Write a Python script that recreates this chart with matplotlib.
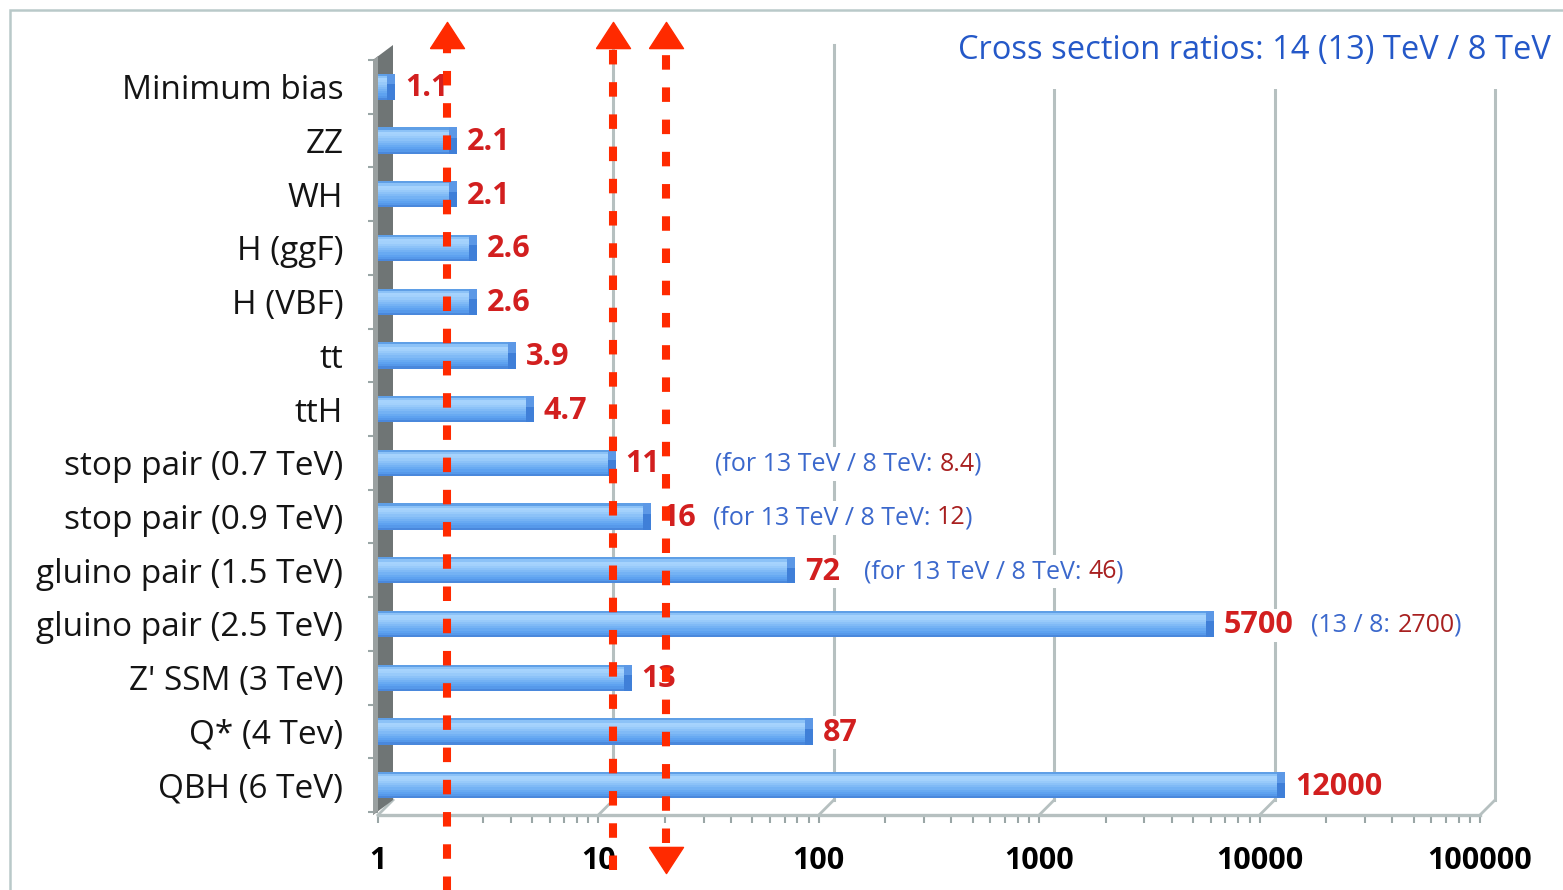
import numpy as np
import matplotlib.pyplot as plt
import matplotlib.ticker as mticker
from matplotlib.patches import Polygon, Rectangle
from matplotlib.path import Path

plt.rcParams['font.family'] = ['Open Sans', 'DejaVu Sans']

# data
categories = ["Minimum bias", "ZZ", "WH", "H (ggF)", "H (VBF)", "tt", "ttH",
              "stop pair (0.7 TeV)", "stop pair (0.9 TeV)", "gluino pair (1.5 TeV)",
              "gluino pair (2.5 TeV)", "Z' SSM (3 TeV)", "Q* (4 Tev)", "QBH (6 TeV)"]
ratio_14_8 = [1.1, 2.1, 2.1, 2.6, 2.6, 3.9, 4.7, 11, 16, 72, 5700, 13, 87, 12000]
note_rows = ["stop pair (0.7 TeV)", "stop pair (0.9 TeV)",
             "gluino pair (1.5 TeV)", "gluino pair (2.5 TeV)"]
note_prefix = ["(for 13 TeV / 8 TeV:", "(for 13 TeV / 8 TeV:",
               "(for 13 TeV / 8 TeV:", "(13 / 8:"]
ratio_13_8 = [8.4, 12, 46, 2700]
arrow_x = [2.05, 11.7, 20.3]
xtick_vals = [1, 10, 100, 1000, 10000, 100000]
title = "Cross section ratios: 14 (13) TeV / 8 TeV"

# colours
red_val = '#d21f1f'
red_note = '#a82020'
blue_note = '#3b68cc'
arrow_col = '#ff2a00'
grid_col = '#b6c0c0'
bar_profile = ['#5f9fe6', '#8cc2f7', '#a6d3fd', '#a3d1fc', '#98cafa', '#8cc2f8',
               '#80baf6', '#74b2f4', '#68aaf2', '#5ea2f0', '#5699ea', '#4a88dc']

W, H = 1563, 890
fig = plt.figure(figsize=(W / 100, H / 100), dpi=100)
ax_l, ax_b, ax_w, ax_h = 378, 75, 1102, 755
ax = fig.add_axes([ax_l / W, ax_b / H, ax_w / W, ax_h / H])
ax.set_xscale('log')
ax.set_xlim(1, 1e5)
n = len(categories)
ypos = np.arange(n)[::-1]
ax.set_ylim(-0.556, 13.43)

depth = 15  # px, 3d offset
dxa, dya = depth / ax_w, depth / ax_h
fdepth = 10 ** (depth / (ax_w / 5))
xt = ax.get_xaxis_transform()

# back wall grid lines + floor diagonals
for t in xtick_vals[1:]:
    ax.plot([t * fdepth, t * fdepth], [dya, 1 + dya], transform=xt, color=grid_col,
            lw=2.2, zorder=1, clip_on=False)
for t in xtick_vals:
    ax.plot([t, t * fdepth], [0, dya], transform=xt, color=grid_col, lw=2.0,
            zorder=1, clip_on=False)

# left wall
x0 = -5 / ax_w
wall = Polygon([(x0, 0), (dxa, dya), (dxa, 1 + dya), (x0, 1)], closed=True,
               transform=ax.transAxes, fc='#6f7575', ec='none', zorder=2, clip_on=False)
ax.add_patch(wall)
wall2 = Polygon([(x0, 0), (x0 + 5 / ax_w, 4 / ax_h), (x0 + 5 / ax_w, 1 + 4 / ax_h), (x0, 1)],
                closed=True, transform=ax.transAxes, fc='#9aa0a0', ec='none', zorder=2,
                clip_on=False)
ax.add_patch(wall2)

# bars with a vertical gradient
vals = np.array(ratio_14_8, dtype=float)
bh = 0.49
ns = len(bar_profile)
for j, c in enumerate(bar_profile):
    off = bh / 2 - (j + 0.5) * bh / ns
    ax.barh(ypos + off, vals - 1, left=1, height=bh / ns, color=c, lw=0, zorder=3)
fcap = 10 ** (8 / (ax_w / 5))
ax.barh(ypos, vals * fcap - vals, left=vals, height=bh, color='#3f7fd8', lw=0, zorder=3)
ax.barh(ypos + bh * 0.3, vals * fcap - vals, left=vals, height=bh * 0.4,
        color='#5c98e6', lw=0, zorder=3)

# value labels
val_texts = {}
for cat, v, y in zip(categories, vals, ypos):
    t = ax.annotate(f"{v:g}", xy=(v * fcap, y), xytext=(7, -1), textcoords='offset points',
                    ha='left', va='center', color=red_val, fontsize=22, fontweight='bold',
                    zorder=5, bbox=dict(fc='white', ec='none', pad=1))
    val_texts[cat] = t

# 13/8 notes, three coloured pieces each
note_gap = [40, 12, 17, 13]  # points between value label and note
for cat, pre, r, g in zip(note_rows, note_prefix, ratio_13_8, note_gap):
    t1 = ax.annotate(pre, xy=(1, 0.5), xycoords=val_texts[cat], xytext=(g, 0),
                     textcoords='offset points', ha='left', va='center', color=blue_note,
                     fontsize=18, zorder=5, bbox=dict(fc='white', ec='none', pad=3))
    t2 = ax.annotate(f"{r:g}", xy=(1, 0.5), xycoords=t1, xytext=(5, 0),
                     textcoords='offset points', ha='left', va='center', color=red_note,
                     fontsize=18, zorder=6)
    ax.annotate(")", xy=(1, 0.5), xycoords=t2, xytext=(-1, 0),
                textcoords='offset points', ha='left', va='center', color=blue_note,
                fontsize=18, zorder=6)

# axes styling
for s in ['top', 'right', 'left']:
    ax.spines[s].set_visible(False)
ax.spines['bottom'].set_color(grid_col)
ax.spines['bottom'].set_linewidth(2.4)
ax.set_yticks(ypos)
ax.set_yticklabels(categories, fontsize=24, color='#141414')
ax.set_yticks(np.arange(-0.5, n, 1.0), minor=True)
ax.tick_params(axis='y', which='major', length=0, pad=25)
ax.tick_params(axis='y', which='minor', length=7, width=1.5, color='#9aa6a6')
ax.set_xticks(xtick_vals)
ax.xaxis.set_major_formatter(mticker.FuncFormatter(lambda x, p: f"{x:.0f}"))
ax.xaxis.set_minor_locator(mticker.LogLocator(base=10, subs=np.arange(2, 10)))
ax.xaxis.set_minor_formatter(mticker.NullFormatter())
ax.tick_params(axis='x', which='both', length=6, width=1.5, color='#9aa6a6', direction='out')
ax.tick_params(axis='x', which='major', pad=16, labelsize=22)
for lbl in ax.get_xticklabels():
    lbl.set_fontweight('bold')
ax.set_facecolor('none')

# red dashed arrows
tri_up = Path([(-0.65, -0.5), (0.65, -0.5), (0, 0.5), (-0.65, -0.5)])
tri_dn = Path([(-0.65, 0.5), (0.65, 0.5), (0, -0.5), (-0.65, 0.5)])
arrow_bottom = [-0.11, -0.073, -0.037]
arrow_has_down = [False, False, True]
for xa, yb, dn in zip(arrow_x, arrow_bottom, arrow_has_down):
    ax.plot([xa, xa], [yb, 1.016], transform=xt, color=arrow_col, lw=5.8,
            ls=(0, (1.8, 2.2)), zorder=20, clip_on=False)
    ax.plot([xa], [1.033], transform=xt, marker=tri_up, ms=24.5, color=arrow_col,
            zorder=21, clip_on=False)
    if dn:
        ax.plot([xa], [-0.06], transform=xt, marker=tri_dn, ms=24.5, color=arrow_col,
                zorder=21, clip_on=False)

# title
fig.text(958 / W, 1 - 50 / H, title, ha='left', va='center', color='#2458c8',
         fontsize=23.5, zorder=5, bbox=dict(fc='white', ec='none', pad=16))

# outer frame
fig.patches.append(Rectangle((10 / W, -0.1), 1.2, 1.1 - 10 / H, transform=fig.transFigure,
                             fill=False, ec='#b9c9c9', lw=1.8, zorder=10))

fig.savefig('out.png', dpi=100)
